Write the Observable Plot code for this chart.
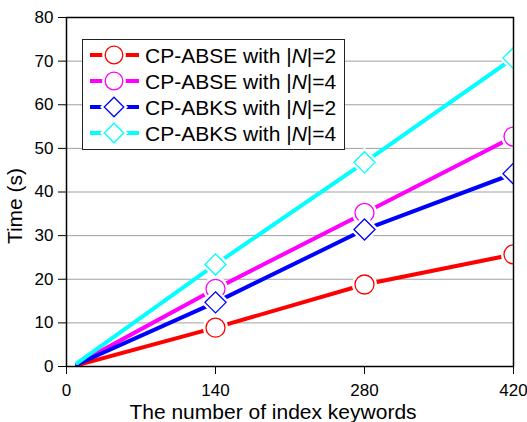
<!DOCTYPE html>
<html><head><meta charset="utf-8">
<script src="https://cdn.jsdelivr.net/npm/d3@7"></script>
<script src="https://cdn.jsdelivr.net/npm/@observablehq/plot@0.6"></script>
<style>
body{margin:0;background:#fff}
svg{font-family:"Liberation Sans",Arial,sans-serif}
</style>
</head><body><div id="chart"></div>
<script>
// ---- data ----
const keywords = [10, 140, 280, 420];
const seriesNames = ["CP-ABSE with |N|=2", "CP-ABSE with |N|=4", "CP-ABKS with |N|=2", "CP-ABKS with |N|=4"];
const abseN2 = [0.3, 8.9, 18.8, 25.7];
const abseN4 = [0.6, 17.8, 35.2, 52.7];
const abksN2 = [0.5, 14.7, 31.4, 44.2];
const abksN4 = [0.8, 23.4, 46.8, 70.7];
const seriesColors = ["#ff0000", "#ff00ff", "#0000ff", "#00ffff"];
const seriesSymbols = ["circle", "circle", "diamond2", "diamond2"];
const xTicks = [0, 140, 280, 420];
const yTicks = [0, 10, 20, 30, 40, 50, 60, 70, 80];
const xTitle = "The number of index keywords";
const yTitle = "Time (s)";

const seriesValues = [abseN2, abseN4, abksN2, abksN4];
const series = seriesNames.map((name, i) => ({
  name, color: seriesColors[i], symbol: seriesSymbols[i],
  data: keywords.map((k, j) => ({x: k, y: seriesValues[i][j]}))
}));

const W = 527, H = 422;
const mL = 66, mR = 14, mT = 17, mB = 56;

const marks = [
  Plot.gridY(yTicks, {stroke: "#a0a0a0", strokeOpacity: 1, strokeWidth: 1})
];
for (const s of series) {
  const pts = s.data.filter(d => d.x >= 140);
  marks.push(Plot.line(s.data, {x: "x", y: "y", stroke: s.color, strokeWidth: 4, clip: true}));
  marks.push(Plot.dot(pts, {x: "x", y: "y", r: 9.5, symbol: s.symbol, fill: "white", stroke: "white", strokeWidth: 6, clip: true}));
  marks.push(Plot.dot(pts, {x: "x", y: "y", r: 9.5, symbol: s.symbol, fill: "white", stroke: s.color, strokeWidth: 1.3, clip: true}));
}
marks.push(Plot.frame({stroke: "black", strokeWidth: 1.5}));
marks.push(Plot.axisX({ticks: xTicks, tickSize: 8, tickPadding: 9, fontSize: 17, label: null, tickFormat: d => String(d)}));
marks.push(Plot.axisY({ticks: yTicks, tickSize: 8, tickPadding: 5, fontSize: 17, label: null, tickFormat: d => String(d)}));

const chart = Plot.plot({
  width: W, height: H,
  marginLeft: mL, marginRight: mR, marginTop: mT, marginBottom: mB,
  x: {domain: [0, 420]},
  y: {domain: [0, 80]},
  style: {fontFamily: '"Liberation Sans", Arial, sans-serif', color: "black", background: "white", overflow: "visible"},
  marks
});
document.getElementById("chart").appendChild(chart);

const svg = d3.select(chart);
// axis titles
svg.append("text").attr("x", 273).attr("y", 419).attr("text-anchor", "middle")
  .attr("font-size", 21).attr("fill", "black").text(xTitle);
svg.append("text").attr("transform", "translate(22,206) rotate(-90)").attr("text-anchor", "middle")
  .attr("font-size", 21).attr("fill", "black").text(yTitle);

// legend
const lg = svg.append("g");
lg.append("rect").attr("x", 82.5).attr("y", 39.5).attr("width", 262).attr("height", 110)
  .attr("fill", "white").attr("stroke", "#222").attr("stroke-width", 1);
series.forEach((s, i) => {
  const cy = 55 + i * 26;
  lg.append("line").attr("x1", 90).attr("x2", 139).attr("y1", cy).attr("y2", cy)
    .attr("stroke", s.color).attr("stroke-width", 4);
  const sym = d3.symbol(s.symbol === "circle" ? d3.symbolCircle : d3.symbolDiamond2, Math.PI * 8.8 * 8.8)();
  lg.append("path").attr("d", sym).attr("transform", `translate(114,${cy})`)
    .attr("fill", "white").attr("stroke", "white").attr("stroke-width", 6);
  lg.append("path").attr("d", sym).attr("transform", `translate(114,${cy})`)
    .attr("fill", "white").attr("stroke", s.color).attr("stroke-width", 1.3);
  const t = lg.append("text").attr("x", 145).attr("y", cy + 7.5).attr("text-anchor", "start")
    .attr("font-size", 21).attr("fill", "black");
  const m = s.name.match(/^(.*\|)(N)(\|.*)$/);
  t.append("tspan").text(m[1]);
  t.append("tspan").attr("font-style", "italic").text(m[2]);
  t.append("tspan").text(m[3]);
});
</script>
</body></html>
